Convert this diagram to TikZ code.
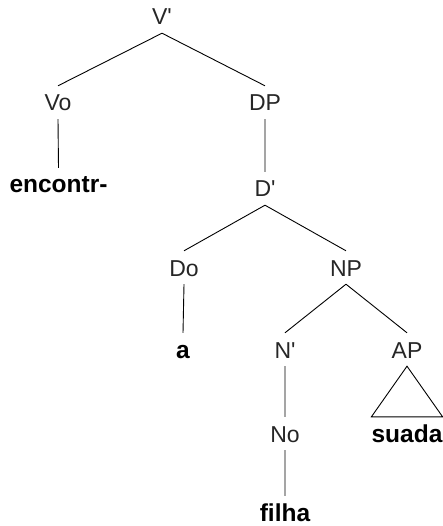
\documentclass[tikz,border=0pt]{standalone}
\usepackage{fontspec}
\setmainfont{Liberation Sans}

\begin{document}
\begin{tikzpicture}[x=1pt,y=-1pt,
    cat/.style={anchor=base,inner xsep=0pt,inner ysep=8pt,text height=17pt,
      text depth=0pt,font=\fontsize{23}{26}\selectfont,text=black!85},
    word/.style={anchor=base,inner xsep=0pt,inner ysep=8pt,text height=17pt,
      text depth=0pt,font=\fontsize{24.5}{28}\selectfont\bfseries}]
    \useasboundingbox (0,0) rectangle (442,526);
    \node[cat] (vbar) at (162,25) {V\textquotesingle};
    \node[cat] (v0) at (58,111) {Vo};
    \node[word] (encontr) at (58.5,193) {encontr-};
    \node[cat] (dp) at (265,111) {DP};
    \node[cat] (dbar) at (265,197) {D\textquotesingle};
    \node[cat] (d0) at (184,276) {Do};
    \node[word] (a) at (183,358) {a};
    \node[cat] (np) at (346,276) {NP};
    \node[cat] (nbar) at (285,358) {N\textquotesingle};
    \node[cat] (ap) at (407,358) {AP};
    \node[cat] (n0) at (285,442) {No};
    \node[word] (suada) at (407,442) {suada};
    \node[word] (filha) at (285,521) {filha};
    \draw[line width=.9pt] (vbar.south)--(v0.north) (vbar.south)--(dp.north)
      (v0.south)--(encontr.north) (dp.south)--(dbar.north)
      (dbar.south)--(d0.north) (dbar.south)--(np.north)
      (d0.south)--(a.north) (np.south)--(nbar.north) (np.south)--(ap.north)
      (nbar.south)--(n0.north) (n0.south)--(filha.north);
    \draw[line width=.9pt] (ap.south)--(suada.north west)
      --(suada.north east)--cycle;
  \end{tikzpicture}
\end{document}
